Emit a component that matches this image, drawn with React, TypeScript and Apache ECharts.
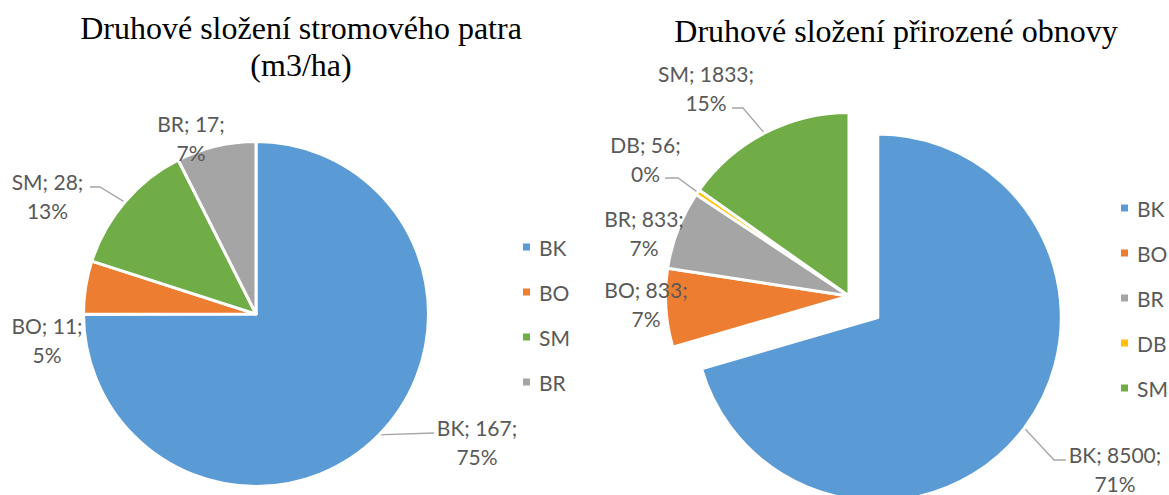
import React, { useEffect, useRef } from "react";
import * as echarts from "echarts";

// ---- data ----
const treeNames = ["BK", "BO", "SM", "BR"];
const treeValues = [167.2, 11.1, 28.1, 16.6];
const regenNames = ["BK", "BO", "BR", "DB", "SM"];
const regenValues = [8500, 833, 833, 56, 1833];
const treeLegend = ["BK", "BO", "SM", "BR"];
const regenLegend = ["BK", "BO", "BR", "DB", "SM"];
const treeTitle = ["Druhové složení stromového patra", "(m3/ha)"];
const regenTitle = ["Druhové složení přirozené obnovy"];
const explodedName = "BK";

// ---- styles ----
const COLORS: Record<string, string> = {
  BK: "#5b9bd5",
  BO: "#ed7d31",
  BR: "#a5a5a5",
  DB: "#ffc000",
  SM: "#70ad47",
};
const TEXT = "#595959";
const LINE = "#a6a6a6";
const LABEL_FONT = "Lato";
const LEFT = { cx: 256, cy: 314, r: 172.5 };
const RIGHT = { cx: 849, cy: 296, r: 183.5, explode: 36 };

type LabelPos = { x: number; y: number; line?: number[][] };
const leftLabelPos: Record<string, LabelPos> = {
  BK: { x: 477, y: 442, line: [[434, 433]] },
  BO: { x: 47, y: 339.5 },
  SM: { x: 47.5, y: 196, line: [[100, 187], [90, 187]] },
  BR: { x: 191, y: 137.5 },
};
const rightLabelPos: Record<string, LabelPos> = {
  BK: { x: 1115, y: 469, line: [[1054, 460], [1066, 460]] },
  BO: { x: 646, y: 304 },
  BR: { x: 644, y: 232.5 },
  DB: { x: 645.5, y: 158.5, line: [[678, 178], [665, 178]] },
  SM: { x: 706, y: 87.5, line: [[743, 108], [732, 108]] },
};

function midAngle(values: number[], idx: number) {
  const total = values.reduce((a, b) => a + b, 0);
  let before = 0;
  for (let i = 0; i < idx; i++) before += values[i];
  return ((before + values[idx] / 2) / total) * Math.PI * 2;
}
function edgePoint(values: number[], idx: number, cx: number, cy: number, r: number) {
  const a = midAngle(values, idx);
  return [cx + r * Math.sin(a), cy - r * Math.cos(a)];
}

const labelFormatter = (p: any) => `${p.name}; ${Math.round(p.value)};\n${p.percent}%`;

const labelStyle = {
  show: true,
  position: "outside",
  formatter: labelFormatter,
  fontFamily: LABEL_FONT,
  fontSize: 21,
  lineHeight: 29,
  color: TEXT,
};

export default function App() {
  const ref = useRef<HTMLDivElement>(null);

  useEffect(() => {
    document.body.style.margin = "0";
    if (!ref.current) return;
    const chart = echarts.init(ref.current, null, { renderer: "svg" });

    const exIdx = regenNames.indexOf(explodedName);
    const exA = midAngle(regenValues, exIdx);
    const exCx = RIGHT.cx + RIGHT.explode * Math.sin(exA);
    const exCy = RIGHT.cy - RIGHT.explode * Math.cos(exA);

    const makeLayout = (
      names: string[],
      values: number[],
      pos: Record<string, LabelPos>,
      cx: number,
      cy: number,
      r: number
    ) => (params: any) => {
      const n = names[params.dataIndex];
      const p = pos[n];
      const res: any = { x: p.x, y: p.y, align: "center", verticalAlign: "middle" };
      if (p.line) {
        res.labelLinePoints = [edgePoint(values, params.dataIndex, cx, cy, r - 1.5), ...p.line];
      }
      return res;
    };

    const legendCommon = {
      orient: "vertical",
      icon: "rect",
      itemWidth: 9,
      itemHeight: 9,
      itemGap: 21,
      padding: 0,
      selectedMode: false,
      textStyle: {
        fontFamily: LABEL_FONT,
        fontSize: 21,
        color: TEXT,
        lineHeight: 24,
        padding: [0, 0, 0, 3],
      },
    };

    const titleText = (t: string, x: number, y: number) => ({
      type: "text",
      x,
      y,
      style: {
        text: t,
        fill: "#000",
        font: '32px "Liberation Serif"',
        textAlign: "center",
        textVerticalAlign: "middle",
      },
    });

    const pieCommon = {
      type: "pie",
      startAngle: 90,
      clockwise: true,
      avoidLabelOverlap: false,
      percentPrecision: 0,
      itemStyle: { borderColor: "#fff", borderWidth: 3 },
      labelLine: { show: true, lineStyle: { color: LINE, width: 1.3 } },
      emphasis: { disabled: true },
      silent: true,
    };

    chart.setOption({
      animation: false,
      graphic: [
        titleText(treeTitle[0], 301, 28),
        titleText(treeTitle[1], 301, 65),
        titleText(regenTitle[0], 896, 31),
      ],
      legend: [
        { ...legendCommon, left: 521, top: 235, data: treeLegend },
        { ...legendCommon, left: 1119, top: 196, data: regenLegend },
      ],
      series: [
        {
          ...pieCommon,
          name: "tree",
          center: [LEFT.cx, LEFT.cy],
          radius: LEFT.r,
          label: labelStyle,
          labelLayout: makeLayout(treeNames, treeValues, leftLabelPos, LEFT.cx, LEFT.cy, LEFT.r),
          data: treeNames.map((n, i) => ({
            name: n,
            value: treeValues[i],
            itemStyle: { color: COLORS[n] },
            labelLine: { show: !!leftLabelPos[n].line },
          })),
        },
        {
          ...pieCommon,
          name: "regen",
          center: [RIGHT.cx, RIGHT.cy],
          radius: RIGHT.r,
          label: labelStyle,
          labelLayout: makeLayout(regenNames, regenValues, rightLabelPos, RIGHT.cx, RIGHT.cy, RIGHT.r),
          data: regenNames.map((n, i) => ({
            name: n,
            value: regenValues[i],
            itemStyle: n === explodedName ? { color: COLORS[n], opacity: 0 } : { color: COLORS[n] },
            label: { show: n !== explodedName },
            labelLine: { show: n !== explodedName && !!rightLabelPos[n].line },
          })),
        },
        {
          ...pieCommon,
          name: "regenExploded",
          center: [exCx, exCy],
          radius: RIGHT.r,
          label: labelStyle,
          labelLayout: makeLayout(regenNames, regenValues, rightLabelPos, exCx, exCy, RIGHT.r),
          data: regenNames.map((n, i) => ({
            name: n,
            value: regenValues[i],
            itemStyle: n === explodedName ? { color: COLORS[n] } : { color: COLORS[n], opacity: 0 },
            label: { show: n === explodedName },
            labelLine: { show: n === explodedName && !!rightLabelPos[n].line },
          })),
        },
      ],
    });

    return () => chart.dispose();
  }, []);

  return (
    <div
      ref={ref}
      style={{ position: "absolute", left: 0, top: 0, width: 1169, height: 495, background: "#fff" }}
    />
  );
}
